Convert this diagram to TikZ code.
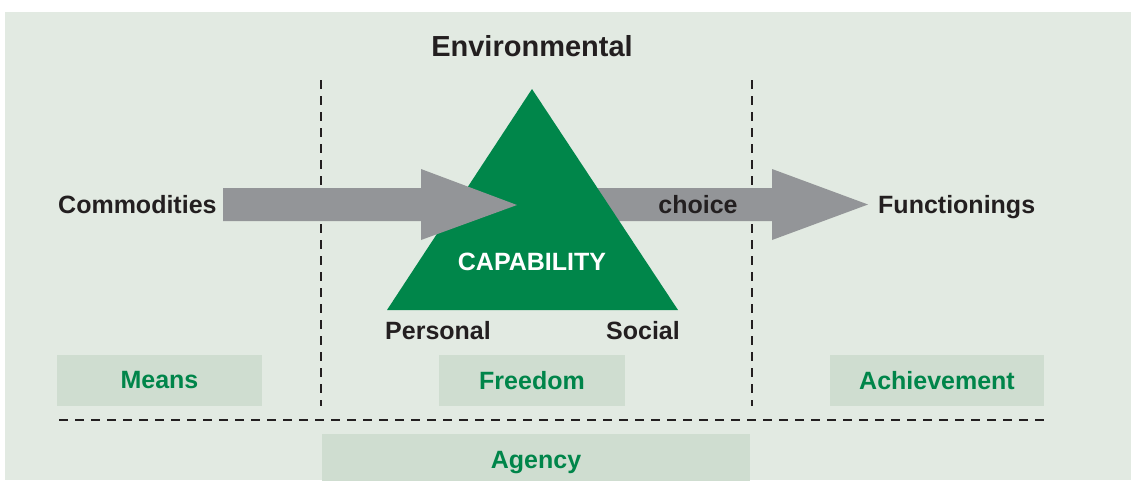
\documentclass[tikz,border=0pt]{standalone}
\usepackage{fontspec}
\setmainfont{Liberation Sans}
\definecolor{panel}{HTML}{E2EAE2}
\definecolor{boxbg}{HTML}{CFDDD0}
\definecolor{capgreen}{HTML}{00864A}
\definecolor{txtgreen}{HTML}{00854A}
\definecolor{arrowgray}{HTML}{939598}
\definecolor{darktxt}{HTML}{231F20}
\tikzset{
  lbl/.style={inner sep=0pt, font=\fontsize{25}{30}\selectfont\bfseries, text=darktxt},
  wlbl/.style={inner sep=0pt, font=\fontsize{25}{30}\selectfont\bfseries, text=white},
  catbox/.style={fill=boxbg, draw=none, inner sep=0pt, font=\fontsize{25}{30}\selectfont\bfseries, text=txtgreen},
  divider/.style={draw=darktxt, line width=2pt, dash pattern=on 9pt off 7pt},
  blockarrow/.style={fill=arrowgray, draw=none},
}
\begin{document}
\begin{tikzpicture}[x=1pt,y=-1pt]
\useasboundingbox (0,0) rectangle (1131,480);
\fill[white] (0,0) rectangle (1131,480);
\fill[panel] (5,12) rectangle (1131,480);

% dividers
\coordinate (v1t) at (321,80); \coordinate (v1b) at (321,406);
\coordinate (v2t) at (752,80); \coordinate (v2b) at (752,406);
\coordinate (hl) at (59,420); \coordinate (hr) at (1046,420);
\draw[divider] (v1t) -- (v1b);
\draw[divider] (v2t) -- (v2b);
\draw[divider] (hl) -- (hr);

% right block arrow (behind triangle)
\fill[blockarrow] (560,188) -- (772,188) -- (772,169) -- (868,204.5) -- (772,240) -- (772,221) -- (560,221) -- cycle;

% triangle
\coordinate (apex) at (532,89);
\coordinate (bl) at (387,310);
\coordinate (br) at (678,310);
\fill[capgreen] (apex) -- (br) -- (bl) -- cycle;

% left block arrow (in front)
\fill[blockarrow] (223,188) -- (421,188) -- (421,169) -- (517,205) -- (421,240) -- (421,221) -- (223,221) -- cycle;

% labels
\node[lbl, font=\fontsize{29}{34}\selectfont\bfseries] (env) at (532,46) {Environmental};
\node[lbl, anchor=base west] (comm) at (58,213.5) {Commodities};
\node[lbl, anchor=base west] (func) at (878,213.5) {Functionings};
\node[lbl] (choice) at (698,205) {choice};
\node[wlbl] (cap) at (532,262) {CAPABILITY};
\node[lbl] (pers) at (438,331) {Personal};
\node[lbl] (soc) at (643,331) {Social};

% category boxes
\node[catbox, minimum width=205pt, minimum height=51pt] (means) at (159.5,380.5) {Means};
\node[catbox, minimum width=186pt, minimum height=51pt] (freedom) at (532,380.5) {Freedom};
\node[catbox, minimum width=214pt, minimum height=51pt] (achieve) at (937,380.5) {Achievement};
\node[catbox, minimum width=428pt, minimum height=47pt, anchor=north west] (agencybox) at (322,434) {};
\node[inner sep=0pt, font=\fontsize{25}{30}\selectfont\bfseries, text=txtgreen, anchor=base] (agency) at (536,468) {Agency};
\end{tikzpicture}
\end{document}
